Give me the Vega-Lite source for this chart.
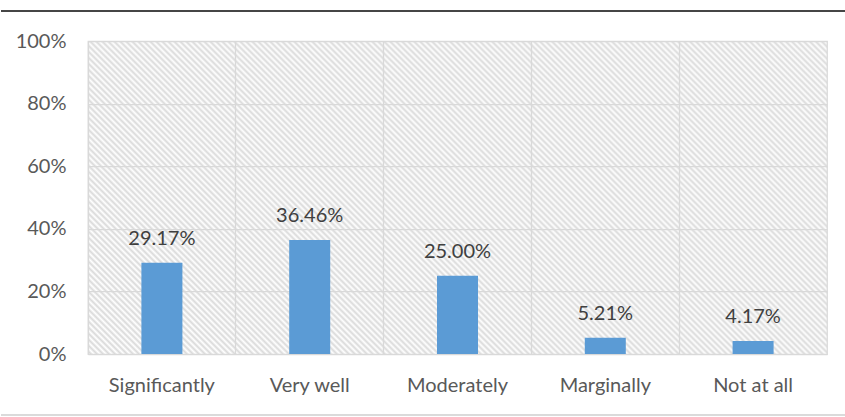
{
"$schema": "https://vega.github.io/schema/vega-lite/v6.json",
"padding": {"left": 0, "right": 0, "top": 10, "bottom": 0},
"background": "white",
"spacing": 0,
"columns": 1,
"config": {"font": "Lato", "view": {"stroke": null}},
"data": {"values": [
 {"category": "Significantly", "value": 0.2917},
 {"category": "Very well", "value": 0.3646},
 {"category": "Moderately", "value": 0.25},
 {"category": "Marginally", "value": 0.0521},
 {"category": "Not at all", "value": 0.0417}
]},
"concat": [
 {
  "width": 739, "height": 19,
  "mark": {"type": "rule", "color": "#404040", "strokeWidth": 1},
  "encoding": {
   "x": {"datum": -0.1177, "type": "quantitative", "scale": {"domain": [0, 1]}, "axis": null},
   "x2": {"datum": 1.0257},
   "y": {"datum": 1, "type": "quantitative", "scale": {"domain": [0, 1]}, "axis": null}}
 },
 {
  "width": 739, "height": 313,
  "view": {"stroke": "#d9d9d9", "strokeWidth": 1.25, "fill": {"gradient": "linear", "x1": 0, "y1": 1, "x2": 1.376, "y2": 0.4172, "stops": [
{"offset":0,"color":"#fff"},{"offset":0.0025,"color":"#dadada"},{"offset":0.005,"color":"#fff"},{"offset":0.0075,"color":"#dadada"},
{"offset":0.01,"color":"#fff"},{"offset":0.0125,"color":"#dadada"},{"offset":0.015,"color":"#fff"},{"offset":0.0175,"color":"#dadada"},
{"offset":0.02,"color":"#fff"},{"offset":0.0225,"color":"#dadada"},{"offset":0.025,"color":"#fff"},{"offset":0.0275,"color":"#dadada"},
{"offset":0.03,"color":"#fff"},{"offset":0.0325,"color":"#dadada"},{"offset":0.035,"color":"#fff"},{"offset":0.0375,"color":"#dadada"},
{"offset":0.04,"color":"#fff"},{"offset":0.0425,"color":"#dadada"},{"offset":0.045,"color":"#fff"},{"offset":0.0475,"color":"#dadada"},
{"offset":0.05,"color":"#fff"},{"offset":0.0525,"color":"#dadada"},{"offset":0.055,"color":"#fff"},{"offset":0.0575,"color":"#dadada"},
{"offset":0.06,"color":"#fff"},{"offset":0.0625,"color":"#dadada"},{"offset":0.065,"color":"#fff"},{"offset":0.0675,"color":"#dadada"},
{"offset":0.07,"color":"#fff"},{"offset":0.0725,"color":"#dadada"},{"offset":0.075,"color":"#fff"},{"offset":0.0775,"color":"#dadada"},
{"offset":0.08,"color":"#fff"},{"offset":0.0825,"color":"#dadada"},{"offset":0.085,"color":"#fff"},{"offset":0.0875,"color":"#dadada"},
{"offset":0.09,"color":"#fff"},{"offset":0.0925,"color":"#dadada"},{"offset":0.095,"color":"#fff"},{"offset":0.0975,"color":"#dadada"},
{"offset":0.1,"color":"#fff"},{"offset":0.1025,"color":"#dadada"},{"offset":0.105,"color":"#fff"},{"offset":0.1075,"color":"#dadada"},
{"offset":0.11,"color":"#fff"},{"offset":0.1125,"color":"#dadada"},{"offset":0.115,"color":"#fff"},{"offset":0.1175,"color":"#dadada"},
{"offset":0.12,"color":"#fff"},{"offset":0.1225,"color":"#dadada"},{"offset":0.125,"color":"#fff"},{"offset":0.1275,"color":"#dadada"},
{"offset":0.13,"color":"#fff"},{"offset":0.1325,"color":"#dadada"},{"offset":0.135,"color":"#fff"},{"offset":0.1375,"color":"#dadada"},
{"offset":0.14,"color":"#fff"},{"offset":0.1425,"color":"#dadada"},{"offset":0.145,"color":"#fff"},{"offset":0.1475,"color":"#dadada"},
{"offset":0.15,"color":"#fff"},{"offset":0.1525,"color":"#dadada"},{"offset":0.155,"color":"#fff"},{"offset":0.1575,"color":"#dadada"},
{"offset":0.16,"color":"#fff"},{"offset":0.1625,"color":"#dadada"},{"offset":0.165,"color":"#fff"},{"offset":0.1675,"color":"#dadada"},
{"offset":0.17,"color":"#fff"},{"offset":0.1725,"color":"#dadada"},{"offset":0.175,"color":"#fff"},{"offset":0.1775,"color":"#dadada"},
{"offset":0.18,"color":"#fff"},{"offset":0.1825,"color":"#dadada"},{"offset":0.185,"color":"#fff"},{"offset":0.1875,"color":"#dadada"},
{"offset":0.19,"color":"#fff"},{"offset":0.1925,"color":"#dadada"},{"offset":0.195,"color":"#fff"},{"offset":0.1975,"color":"#dadada"},
{"offset":0.2,"color":"#fff"},{"offset":0.2025,"color":"#dadada"},{"offset":0.205,"color":"#fff"},{"offset":0.2075,"color":"#dadada"},
{"offset":0.21,"color":"#fff"},{"offset":0.2125,"color":"#dadada"},{"offset":0.215,"color":"#fff"},{"offset":0.2175,"color":"#dadada"},
{"offset":0.22,"color":"#fff"},{"offset":0.2225,"color":"#dadada"},{"offset":0.225,"color":"#fff"},{"offset":0.2275,"color":"#dadada"},
{"offset":0.23,"color":"#fff"},{"offset":0.2325,"color":"#dadada"},{"offset":0.235,"color":"#fff"},{"offset":0.2375,"color":"#dadada"},
{"offset":0.24,"color":"#fff"},{"offset":0.2425,"color":"#dadada"},{"offset":0.245,"color":"#fff"},{"offset":0.2475,"color":"#dadada"},
{"offset":0.25,"color":"#fff"},{"offset":0.2525,"color":"#dadada"},{"offset":0.255,"color":"#fff"},{"offset":0.2575,"color":"#dadada"},
{"offset":0.26,"color":"#fff"},{"offset":0.2625,"color":"#dadada"},{"offset":0.265,"color":"#fff"},{"offset":0.2675,"color":"#dadada"},
{"offset":0.27,"color":"#fff"},{"offset":0.2725,"color":"#dadada"},{"offset":0.275,"color":"#fff"},{"offset":0.2775,"color":"#dadada"},
{"offset":0.28,"color":"#fff"},{"offset":0.2825,"color":"#dadada"},{"offset":0.285,"color":"#fff"},{"offset":0.2875,"color":"#dadada"},
{"offset":0.29,"color":"#fff"},{"offset":0.2925,"color":"#dadada"},{"offset":0.295,"color":"#fff"},{"offset":0.2975,"color":"#dadada"},
{"offset":0.3,"color":"#fff"},{"offset":0.3025,"color":"#dadada"},{"offset":0.305,"color":"#fff"},{"offset":0.3075,"color":"#dadada"},
{"offset":0.31,"color":"#fff"},{"offset":0.3125,"color":"#dadada"},{"offset":0.315,"color":"#fff"},{"offset":0.3175,"color":"#dadada"},
{"offset":0.32,"color":"#fff"},{"offset":0.3225,"color":"#dadada"},{"offset":0.325,"color":"#fff"},{"offset":0.3275,"color":"#dadada"},
{"offset":0.33,"color":"#fff"},{"offset":0.3325,"color":"#dadada"},{"offset":0.335,"color":"#fff"},{"offset":0.3375,"color":"#dadada"},
{"offset":0.34,"color":"#fff"},{"offset":0.3425,"color":"#dadada"},{"offset":0.345,"color":"#fff"},{"offset":0.3475,"color":"#dadada"},
{"offset":0.35,"color":"#fff"},{"offset":0.3525,"color":"#dadada"},{"offset":0.355,"color":"#fff"},{"offset":0.3575,"color":"#dadada"},
{"offset":0.36,"color":"#fff"},{"offset":0.3625,"color":"#dadada"},{"offset":0.365,"color":"#fff"},{"offset":0.3675,"color":"#dadada"},
{"offset":0.37,"color":"#fff"},{"offset":0.3725,"color":"#dadada"},{"offset":0.375,"color":"#fff"},{"offset":0.3775,"color":"#dadada"},
{"offset":0.38,"color":"#fff"},{"offset":0.3825,"color":"#dadada"},{"offset":0.385,"color":"#fff"},{"offset":0.3875,"color":"#dadada"},
{"offset":0.39,"color":"#fff"},{"offset":0.3925,"color":"#dadada"},{"offset":0.395,"color":"#fff"},{"offset":0.3975,"color":"#dadada"},
{"offset":0.4,"color":"#fff"},{"offset":0.4025,"color":"#dadada"},{"offset":0.405,"color":"#fff"},{"offset":0.4075,"color":"#dadada"},
{"offset":0.41,"color":"#fff"},{"offset":0.4125,"color":"#dadada"},{"offset":0.415,"color":"#fff"},{"offset":0.4175,"color":"#dadada"},
{"offset":0.42,"color":"#fff"},{"offset":0.4225,"color":"#dadada"},{"offset":0.425,"color":"#fff"},{"offset":0.4275,"color":"#dadada"},
{"offset":0.43,"color":"#fff"},{"offset":0.4325,"color":"#dadada"},{"offset":0.435,"color":"#fff"},{"offset":0.4375,"color":"#dadada"},
{"offset":0.44,"color":"#fff"},{"offset":0.4425,"color":"#dadada"},{"offset":0.445,"color":"#fff"},{"offset":0.4475,"color":"#dadada"},
{"offset":0.45,"color":"#fff"},{"offset":0.4525,"color":"#dadada"},{"offset":0.455,"color":"#fff"},{"offset":0.4575,"color":"#dadada"},
{"offset":0.46,"color":"#fff"},{"offset":0.4625,"color":"#dadada"},{"offset":0.465,"color":"#fff"},{"offset":0.4675,"color":"#dadada"},
{"offset":0.47,"color":"#fff"},{"offset":0.4725,"color":"#dadada"},{"offset":0.475,"color":"#fff"},{"offset":0.4775,"color":"#dadada"},
{"offset":0.48,"color":"#fff"},{"offset":0.4825,"color":"#dadada"},{"offset":0.485,"color":"#fff"},{"offset":0.4875,"color":"#dadada"},
{"offset":0.49,"color":"#fff"},{"offset":0.4925,"color":"#dadada"},{"offset":0.495,"color":"#fff"},{"offset":0.4975,"color":"#dadada"},
{"offset":0.5,"color":"#fff"},{"offset":0.5025,"color":"#dadada"},{"offset":0.505,"color":"#fff"},{"offset":0.5075,"color":"#dadada"},
{"offset":0.51,"color":"#fff"},{"offset":0.5125,"color":"#dadada"},{"offset":0.515,"color":"#fff"},{"offset":0.5175,"color":"#dadada"},
{"offset":0.52,"color":"#fff"},{"offset":0.5225,"color":"#dadada"},{"offset":0.525,"color":"#fff"},{"offset":0.5275,"color":"#dadada"},
{"offset":0.53,"color":"#fff"},{"offset":0.5325,"color":"#dadada"},{"offset":0.535,"color":"#fff"},{"offset":0.5375,"color":"#dadada"},
{"offset":0.54,"color":"#fff"},{"offset":0.5425,"color":"#dadada"},{"offset":0.545,"color":"#fff"},{"offset":0.5475,"color":"#dadada"},
{"offset":0.55,"color":"#fff"},{"offset":0.5525,"color":"#dadada"},{"offset":0.555,"color":"#fff"},{"offset":0.5575,"color":"#dadada"},
{"offset":0.56,"color":"#fff"},{"offset":0.5625,"color":"#dadada"},{"offset":0.565,"color":"#fff"},{"offset":0.5675,"color":"#dadada"},
{"offset":0.57,"color":"#fff"},{"offset":0.5725,"color":"#dadada"},{"offset":0.575,"color":"#fff"},{"offset":0.5775,"color":"#dadada"},
{"offset":0.58,"color":"#fff"},{"offset":0.5825,"color":"#dadada"},{"offset":0.585,"color":"#fff"},{"offset":0.5875,"color":"#dadada"},
{"offset":0.59,"color":"#fff"},{"offset":0.5925,"color":"#dadada"},{"offset":0.595,"color":"#fff"},{"offset":0.5975,"color":"#dadada"},
{"offset":0.6,"color":"#fff"},{"offset":0.6025,"color":"#dadada"},{"offset":0.605,"color":"#fff"},{"offset":0.6075,"color":"#dadada"},
{"offset":0.61,"color":"#fff"},{"offset":0.6125,"color":"#dadada"},{"offset":0.615,"color":"#fff"},{"offset":0.6175,"color":"#dadada"},
{"offset":0.62,"color":"#fff"},{"offset":0.6225,"color":"#dadada"},{"offset":0.625,"color":"#fff"},{"offset":0.6275,"color":"#dadada"},
{"offset":0.63,"color":"#fff"},{"offset":0.6325,"color":"#dadada"},{"offset":0.635,"color":"#fff"},{"offset":0.6375,"color":"#dadada"},
{"offset":0.64,"color":"#fff"},{"offset":0.6425,"color":"#dadada"},{"offset":0.645,"color":"#fff"},{"offset":0.6475,"color":"#dadada"},
{"offset":0.65,"color":"#fff"},{"offset":0.6525,"color":"#dadada"},{"offset":0.655,"color":"#fff"},{"offset":0.6575,"color":"#dadada"},
{"offset":0.66,"color":"#fff"},{"offset":0.6625,"color":"#dadada"},{"offset":0.665,"color":"#fff"},{"offset":0.6675,"color":"#dadada"},
{"offset":0.67,"color":"#fff"},{"offset":0.6725,"color":"#dadada"},{"offset":0.675,"color":"#fff"},{"offset":0.6775,"color":"#dadada"},
{"offset":0.68,"color":"#fff"},{"offset":0.6825,"color":"#dadada"},{"offset":0.685,"color":"#fff"},{"offset":0.6875,"color":"#dadada"},
{"offset":0.69,"color":"#fff"},{"offset":0.6925,"color":"#dadada"},{"offset":0.695,"color":"#fff"},{"offset":0.6975,"color":"#dadada"},
{"offset":0.7,"color":"#fff"},{"offset":0.7025,"color":"#dadada"},{"offset":0.705,"color":"#fff"},{"offset":0.7075,"color":"#dadada"},
{"offset":0.71,"color":"#fff"},{"offset":0.7125,"color":"#dadada"},{"offset":0.715,"color":"#fff"},{"offset":0.7175,"color":"#dadada"},
{"offset":0.72,"color":"#fff"},{"offset":0.7225,"color":"#dadada"},{"offset":0.725,"color":"#fff"},{"offset":0.7275,"color":"#dadada"},
{"offset":0.73,"color":"#fff"},{"offset":0.7325,"color":"#dadada"},{"offset":0.735,"color":"#fff"},{"offset":0.7375,"color":"#dadada"},
{"offset":0.74,"color":"#fff"},{"offset":0.7425,"color":"#dadada"},{"offset":0.745,"color":"#fff"},{"offset":0.7475,"color":"#dadada"},
{"offset":0.75,"color":"#fff"},{"offset":0.7525,"color":"#dadada"},{"offset":0.755,"color":"#fff"},{"offset":0.7575,"color":"#dadada"},
{"offset":0.76,"color":"#fff"},{"offset":0.7625,"color":"#dadada"},{"offset":0.765,"color":"#fff"},{"offset":0.7675,"color":"#dadada"},
{"offset":0.77,"color":"#fff"},{"offset":0.7725,"color":"#dadada"},{"offset":0.775,"color":"#fff"},{"offset":0.7775,"color":"#dadada"},
{"offset":0.78,"color":"#fff"},{"offset":0.7825,"color":"#dadada"},{"offset":0.785,"color":"#fff"},{"offset":0.7875,"color":"#dadada"},
{"offset":0.79,"color":"#fff"},{"offset":0.7925,"color":"#dadada"},{"offset":0.795,"color":"#fff"},{"offset":0.7975,"color":"#dadada"},
{"offset":0.8,"color":"#fff"},{"offset":0.8025,"color":"#dadada"},{"offset":0.805,"color":"#fff"},{"offset":0.8075,"color":"#dadada"},
{"offset":0.81,"color":"#fff"},{"offset":0.8125,"color":"#dadada"},{"offset":0.815,"color":"#fff"},{"offset":0.8175,"color":"#dadada"},
{"offset":0.82,"color":"#fff"},{"offset":0.8225,"color":"#dadada"},{"offset":0.825,"color":"#fff"},{"offset":0.8275,"color":"#dadada"},
{"offset":0.83,"color":"#fff"},{"offset":0.8325,"color":"#dadada"},{"offset":0.835,"color":"#fff"},{"offset":0.8375,"color":"#dadada"},
{"offset":0.84,"color":"#fff"},{"offset":0.8425,"color":"#dadada"},{"offset":0.845,"color":"#fff"},{"offset":0.8475,"color":"#dadada"},
{"offset":0.85,"color":"#fff"},{"offset":0.8525,"color":"#dadada"},{"offset":0.855,"color":"#fff"},{"offset":0.8575,"color":"#dadada"},
{"offset":0.86,"color":"#fff"},{"offset":0.8625,"color":"#dadada"},{"offset":0.865,"color":"#fff"},{"offset":0.8675,"color":"#dadada"},
{"offset":0.87,"color":"#fff"},{"offset":0.8725,"color":"#dadada"},{"offset":0.875,"color":"#fff"},{"offset":0.8775,"color":"#dadada"},
{"offset":0.88,"color":"#fff"},{"offset":0.8825,"color":"#dadada"},{"offset":0.885,"color":"#fff"},{"offset":0.8875,"color":"#dadada"}
  ]}},
  "encoding": {
   "x": {"field": "category", "type": "nominal", "sort": null,
    "scale": {"paddingInner": 0, "paddingOuter": 0},
    "axis": {"title": null, "labelAngle": 0, "labelFontSize": 20, "labelColor": "#595959", "labelPadding": 21, "ticks": false, "domain": false, "grid": true, "gridColor": "#d9d9d9", "gridWidth": 1.25, "bandPosition": 0}},
   "y": {"field": "value", "type": "quantitative", "scale": {"domain": [0, 1]},
    "axis": {"title": null, "values": [0, 0.2, 0.4, 0.6, 0.8, 1], "format": ".0%", "labelFontSize": 20, "labelColor": "#595959", "labelPadding": 22, "ticks": false, "domain": false, "gridColor": "#d9d9d9", "gridWidth": 1.25, "minExtent": 87, "maxExtent": 87}}
  },
  "layer": [
   {"mark": {"type": "bar", "color": "#5b9bd5", "size": 41}},
   {"mark": {"type": "text", "baseline": "alphabetic", "dy": -18, "fontSize": 20, "color": "#404040"},
    "encoding": {"text": {"field": "value", "type": "quantitative", "format": ".2%"}}}
  ]
 },
 {
  "width": 739, "height": 19,
  "mark": {"type": "rule", "color": "#d9d9d9", "strokeWidth": 1},
  "encoding": {
   "x": {"datum": -0.1177, "type": "quantitative", "scale": {"domain": [0, 1]}, "axis": null},
   "x2": {"datum": 1.0257},
   "y": {"datum": 0, "type": "quantitative", "scale": {"domain": [0, 1]}, "axis": null}}
 }
]
}
